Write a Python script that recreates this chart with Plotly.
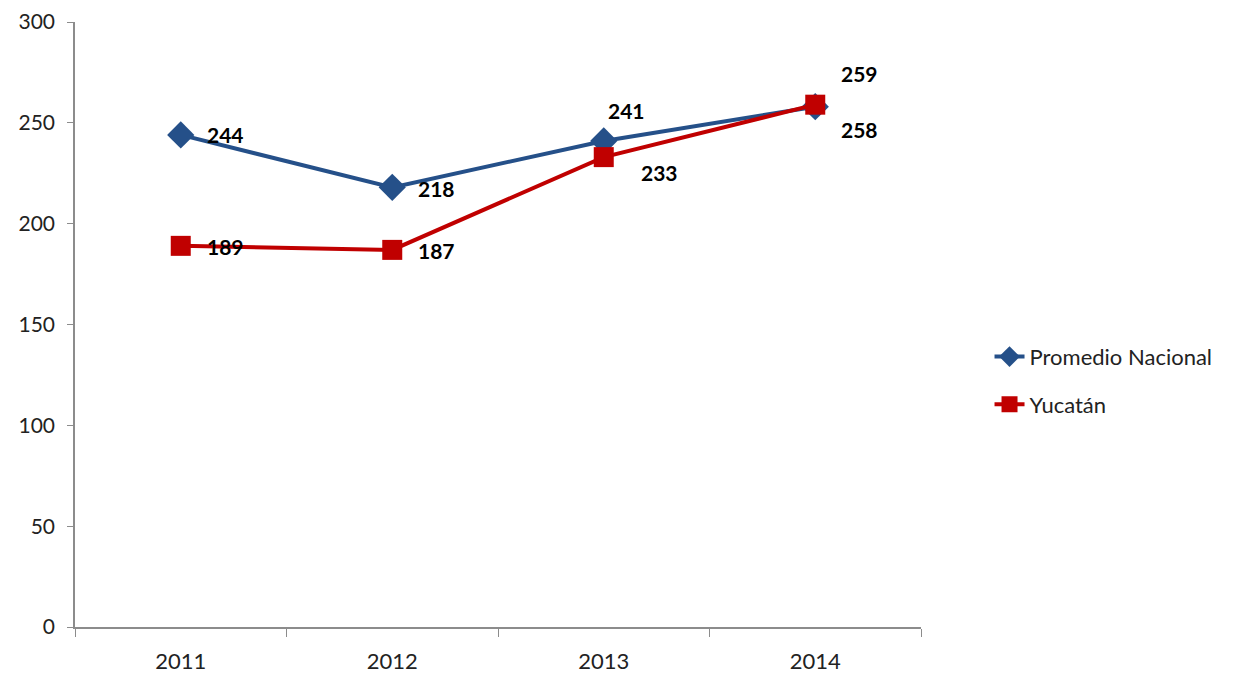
import plotly.graph_objects as go

years = ["2011", "2012", "2013", "2014"]
nacional = [244, 218, 241, 258]
yucatan = [189, 187, 233, 259]
y_ticks = [0, 50, 100, 150, 200, 250, 300]

# label offsets (pixels) for the data labels
nac_shift = [(45, 0), (44, -1), (23, 30), (44, -23)]
yuc_shift = [(45, -1), (44, -1), (56, -15), (44, 31)]

BLUE = "#255089"
RED = "#C00000"
FONT = "Lato"
AXIS = "#8C8C8C"

fig = go.Figure()
fig.add_trace(go.Scatter(
    x=years, y=nacional, name="Promedio Nacional", mode="lines+markers",
    legendgroup="a",
    line=dict(color=BLUE, width=4),
    marker=dict(symbol="diamond", size=21, color=BLUE),
))
fig.add_trace(go.Scatter(
    x=years, y=yucatan, name="Yucatán", mode="lines+markers",
    legendgroup="b",
    line=dict(color=RED, width=4),
    marker=dict(symbol="square", size=20, color=RED),
))

annotations = []
for vals, shifts in ((nacional, nac_shift), (yucatan, yuc_shift)):
    for i, (v, (dx, dy)) in enumerate(zip(vals, shifts)):
        annotations.append(dict(
            x=i, y=v, text=f"<b>{v}</b>", showarrow=False,
            xref="x", yref="y",
            xshift=dx, yshift=dy, xanchor="center", yanchor="middle",
            font=dict(family=FONT, size=21, color="black"),
        ))

fig.update_layout(
    width=1228, height=666,
    margin=dict(l=67, r=315, t=14, b=47),
    paper_bgcolor="white", plot_bgcolor="white",
    annotations=annotations,
    showlegend=True,
    legend=dict(
        x=1.081, y=0.407, xanchor="left", yanchor="middle",
        font=dict(family=FONT, size=22, color="#222222"),
        traceorder="grouped", tracegroupgap=16,
        bgcolor="rgba(0,0,0,0)",
    ),
    font=dict(family=FONT, size=22, color="#222222"),
)
fig.update_xaxes(
    type="category", range=[-0.5, 3.5],
    showline=True, linecolor=AXIS, linewidth=1.5,
    ticks="outside", tickson="boundaries", ticklen=8, tickcolor=AXIS,
    showgrid=False, zeroline=False, automargin=False,
    tickfont=dict(family=FONT, size=22, color="#222222"),
    ticklabelstandoff=14,
)
fig.update_yaxes(
    range=[0, 300], tickvals=y_ticks,
    showline=True, linecolor=AXIS, linewidth=1.5,
    ticks="outside", ticklen=6, tickcolor=AXIS,
    showgrid=False, zeroline=False, automargin=False,
    tickfont=dict(family=FONT, size=21, color="#222222"),
    ticklabelstandoff=8,
)

fig.write_html("out.html")
